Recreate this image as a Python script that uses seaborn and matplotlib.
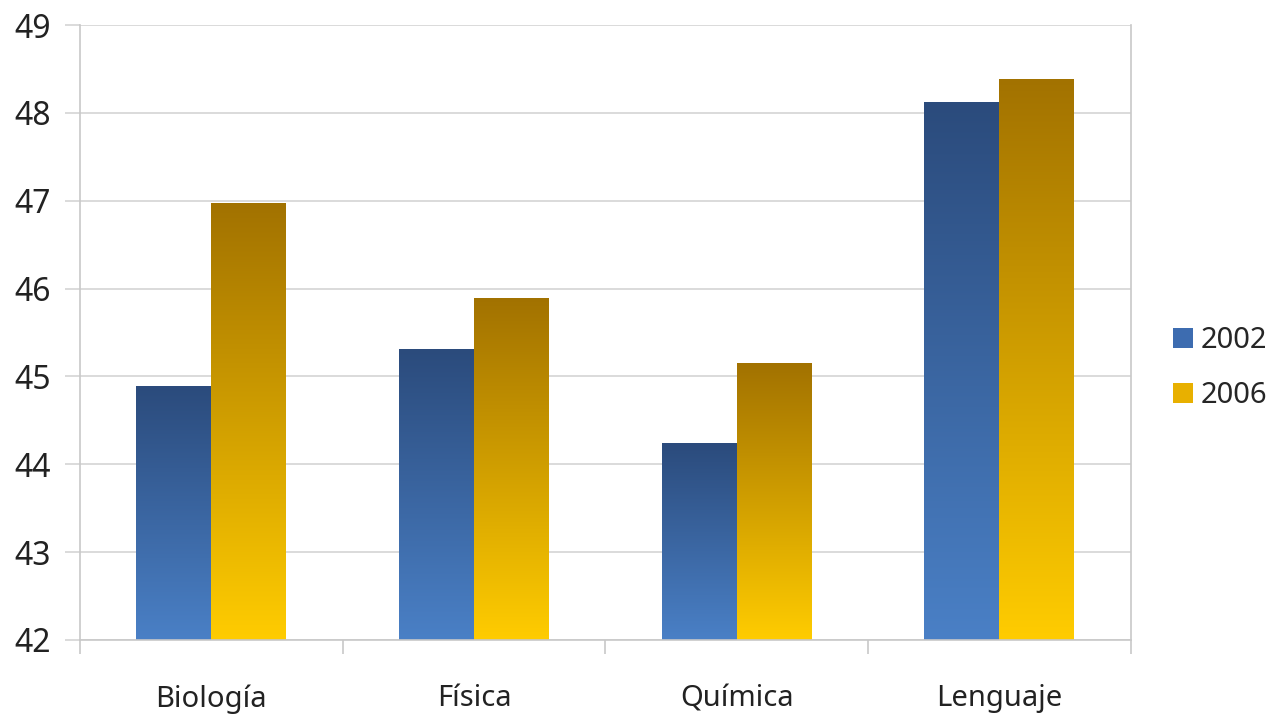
import numpy as np
import pandas as pd
import seaborn as sns
import matplotlib.pyplot as plt
from matplotlib.colors import LinearSegmentedColormap
from matplotlib.ticker import FixedLocator

materias = ['Biología', 'Física', 'Química', 'Lenguaje']
anios = ['2002', '2006']
v2002 = [44.89, 45.31, 44.24, 48.12]
v2006 = [46.97, 45.89, 45.15, 48.39]

df = pd.DataFrame({
    'materia': materias * 2,
    'anio': ['2002'] * 4 + ['2006'] * 4,
    'valor': v2002 + v2006,
})

sns.set_style('white')
plt.rcParams['font.family'] = ['Noto Sans', 'DejaVu Sans']

fig = plt.figure(figsize=(12.79, 7.15), dpi=100)
ax = fig.add_axes([0.0625, 0.105, 0.8215, 0.86])

pal = {'2002': '#3d6cb0', '2006': '#e8b000'}
sns.barplot(data=df, x='materia', y='valor', hue='anio', hue_order=anios,
            palette=pal, width=0.57, gap=0, ax=ax, saturation=1,
            edgecolor='none', linewidth=0)

ax.set_ylim(42, 49)
ax.set_xlim(-0.5, 3.5)

# gradient fill per bar (dark top -> light bottom)
cmaps = [LinearSegmentedColormap.from_list('b', ['#4a80c6', '#2b4b7c']),
         LinearSegmentedColormap.from_list('g', ['#ffcc00', '#a27200'])]
grad = np.linspace(0, 1, 256).reshape(-1, 1)
for i, cont in enumerate(ax.containers):
    for p in cont.patches:
        x0, y0 = p.get_x(), p.get_y()
        w, h = p.get_width(), p.get_height()
        y0 = max(y0, 42)
        top = p.get_y() + h
        im = ax.imshow(grad, cmap=cmaps[i], aspect='auto', origin='lower',
                       extent=[x0, x0 + w, y0, top], zorder=2)
        im.set_clip_path(p)
        p.set_facecolor('none')
ax.set_xlim(-0.5, 3.5)
ax.set_ylim(42, 49)

ax.set_yticks(range(42, 50))
ax.yaxis.grid(True, color='#d4d4d4', linewidth=1.2)
ax.set_axisbelow(True)
ax.xaxis.set_minor_locator(FixedLocator([-0.5, 0.5, 1.5, 2.5, 3.5]))
ax.tick_params(axis='x', which='major', bottom=True, length=0, pad=32, labelsize=21, colors='#222222')
ax.tick_params(axis='x', which='minor', bottom=True, length=10, width=1.2, color='#c8c8c8', direction='out')
ax.tick_params(axis='y', left=True, length=11, width=1.2, color='#d4d4d4', direction='out',
               labelsize=23, labelcolor='#222222', pad=10)
ax.set_xlabel('')
ax.set_ylabel('')

for s in ['left', 'bottom', 'right']:
    ax.spines[s].set_visible(True)
    ax.spines[s].set_color('#c8c8c8')
    ax.spines[s].set_linewidth(1.2)
ax.spines['top'].set_visible(False)

h, l = ax.get_legend_handles_labels()
ax.legend(h, l, loc='center left', bbox_to_anchor=(1.015, 0.442), frameon=False,
          fontsize=21, handlelength=0.7, handleheight=0.7, handletextpad=0.25,
          labelspacing=0.9)

fig.savefig('out.png', dpi=100)
